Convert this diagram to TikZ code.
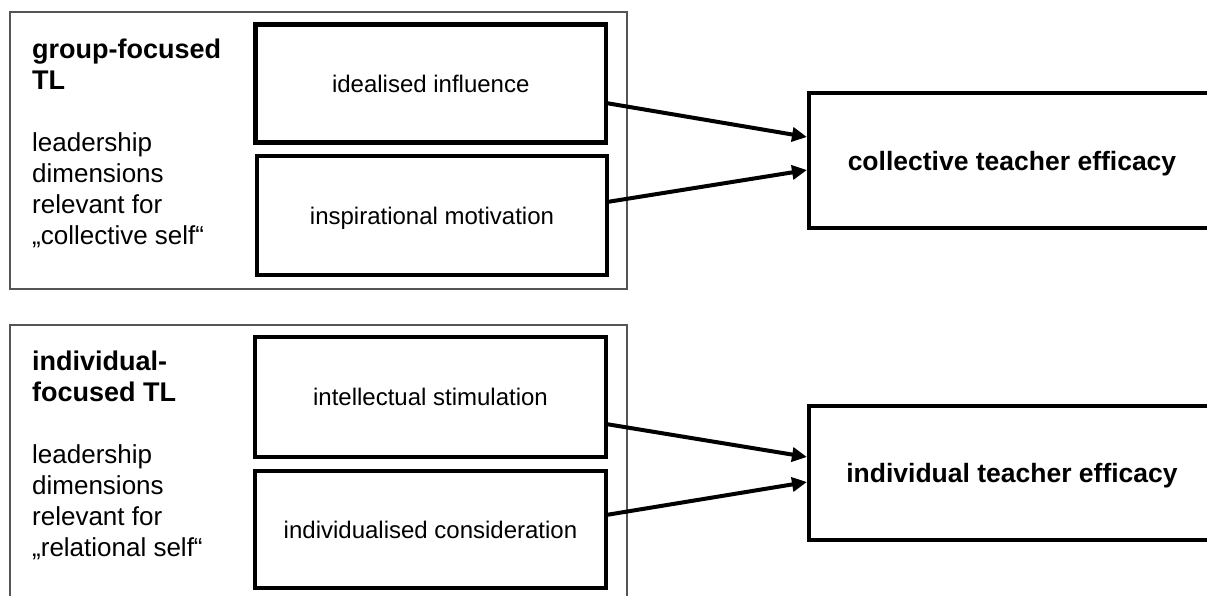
\documentclass[tikz,border=0pt]{standalone}
\usepackage{fontspec}
\setmainfont{Liberation Sans}
\usetikzlibrary{arrows.meta}
\definecolor{framegray}{RGB}{85,85,85}

\begin{document}
\begin{tikzpicture}[x=1pt,y=-1pt,
  frame/.style={draw=framegray, line width=2.2pt, inner sep=0pt, outer sep=0pt, minimum width=617pt},
  dimbox/.style={draw, line width=4.5pt, inner sep=0pt, outer sep=0pt,
    font=\fontsize{24}{29}\selectfont, text height=17.5pt, text depth=0pt},
  effbox/.style={draw, line width=4.5pt, inner sep=0pt, outer sep=0pt,
    minimum width=406pt, font=\bfseries\fontsize{26.5}{32}\selectfont,
    text height=19pt, text depth=0pt},
  sidetext/.style={anchor=base west, inner sep=0pt},
  link/.style={line width=4pt, -{Triangle[length=15pt,width=14pt]}}
]
\useasboundingbox (0,0) rectangle (1207,595);
\clip (0,0) rectangle (1207,595);

% frames around the two groups of leadership dimensions
\node[frame, minimum height=277pt] (grpframe) at (318.5,150.5) {};
\node[frame, minimum height=290pt] (indframe) at (318.5,470) {};

% group descriptions
\node[sidetext] (grptext) at (32,58.3) {\parbox[t]{215pt}{\fontsize{26}{31}\selectfont\raggedright
  {\bfseries\fontsize{27}{31}\selectfont group-focused\\TL}\\[31pt]leadership\\dimensions\\relevant for\\„collective self“}};
\node[sidetext] (indtext) at (32,370) {\parbox[t]{215pt}{\fontsize{26}{31}\selectfont\raggedright
  {\bfseries\fontsize{27}{31}\selectfont individual-\\focused TL}\\[31pt]leadership\\dimensions\\relevant for\\„relational self“}};

% leadership dimensions
\node[dimbox, minimum width=350.5pt, minimum height=118pt] (ii) at (430.75,83.5) {idealised influence};
\node[dimbox, minimum width=350pt, minimum height=119pt] (im) at (432,215.5) {inspirational motivation};
\node[dimbox, minimum width=351pt, minimum height=120pt] (is) at (430.5,397) {intellectual stimulation};
\node[dimbox, minimum width=351pt, minimum height=117pt] (ic) at (430.5,529.5) {individualised consideration};

% outcomes
\node[effbox, minimum height=135pt] (cte) at (1012,160.5) {collective teacher efficacy};
\node[effbox, minimum height=134pt] (ite) at (1012,473) {individual teacher efficacy};

% effects
\draw[link] ([yshift=-19.5pt]ii.east) -- ([xshift=-2pt,yshift=23.5pt]cte.west);
\draw[link] ([yshift=13.5pt]im.east) -- ([xshift=-2pt,yshift=-9.5pt]cte.west);
\draw[link] ([yshift=-27pt]is.east) -- ([xshift=-2pt,yshift=16pt]ite.west);
\draw[link] ([yshift=14.5pt]ic.east) -- ([xshift=-2pt,yshift=-9pt]ite.west);
\end{tikzpicture}
\end{document}
